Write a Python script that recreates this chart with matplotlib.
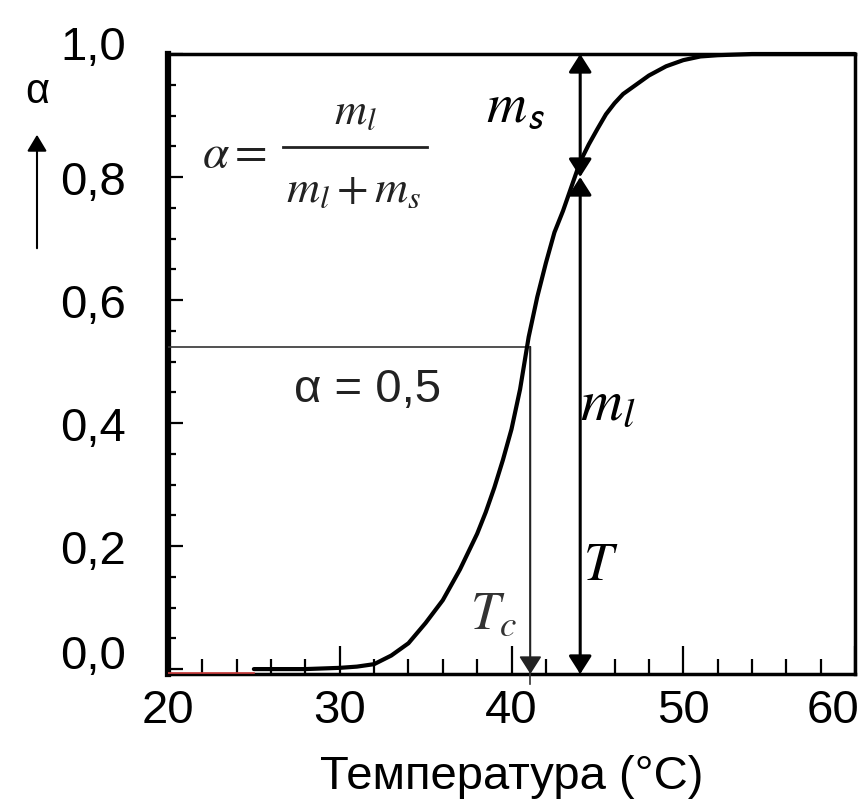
import numpy as np
import matplotlib
matplotlib.use('Agg')
import matplotlib.pyplot as plt
from matplotlib.ticker import MultipleLocator, FuncFormatter
from matplotlib.transforms import ScaledTranslation

# melting curve: liquid fraction vs temperature
temp = [25, 28, 30, 31, 32, 33, 34, 35, 36, 37, 38, 38.5, 39, 39.5, 40, 40.5,
        41, 41.5, 42, 42.5, 43, 43.5, 44, 44.5, 45, 45.5, 46, 46.5, 47, 48,
        49, 50, 51, 52, 54, 56, 60]
alpha = [0.0, 0.0, 0.002, 0.004, 0.008, 0.022, 0.042, 0.075, 0.112, 0.162,
         0.22, 0.255, 0.295, 0.34, 0.39, 0.455, 0.54, 0.605, 0.66, 0.71,
         0.745, 0.785, 0.825, 0.853, 0.878, 0.902, 0.92, 0.935, 0.945, 0.965,
         0.98, 0.99, 0.996, 0.998, 1.0, 1.0, 1.0]

red_x = [20, 25]          # reddish baseline at the very start
tc_x = 41.1               # T_c
alpha_half = 0.524        # level of the "alpha = 0,5" line
m_x = 44.0                # temperature where m_l / m_s are shown
alpha_split = 0.8

x_ticks = [20, 30, 40, 50, 60]
y_ticks = [0.0, 0.2, 0.4, 0.6, 0.8, 1.0]

plt.rcParams['font.family'] = ['Liberation Sans', 'DejaVu Sans']
plt.rcParams['mathtext.fontset'] = 'stix'

fig = plt.figure(figsize=(8.65, 8.04), dpi=100)
ax = fig.add_axes([168/865, 1 - 675/804, (855-168)/865, (675-55)/804])

ymin = -0.008
ax.set_xlim(20, 60)
ax.set_ylim(ymin, 1.0)

# curve
ax.plot(temp, alpha, color='black', lw=3, solid_capstyle='round', zorder=4,
        clip_on=False)
ax.plot(red_x, [ymin + 0.002] * 2, color='#d04040', lw=1.2, zorder=5)

# alpha = 0.5 line and T_c arrow
ax.plot([20, tc_x], [alpha_half, alpha_half], color='#333333', lw=1.2, zorder=3)
ax.plot([tc_x, tc_x], [alpha_half, -0.025], color='#333333', lw=1.2,
        zorder=3, clip_on=False)
ax.annotate('', xy=(tc_x, ymin), xytext=(tc_x, alpha_half),
            arrowprops=dict(arrowstyle='-|>,head_length=0.55,head_width=0.35',
                            color='#222222', lw=1.2, shrinkA=0, shrinkB=0,
                            mutation_scale=20))

# m_l and m_s arrows
arrow_kw = dict(arrowstyle='<|-|>,head_length=0.55,head_width=0.35',
                color='black', lw=2.2, shrinkA=0, shrinkB=0, mutation_scale=20)
ax.annotate('', xy=(m_x, ymin), xytext=(m_x, alpha_split), arrowprops=arrow_kw)
ax.annotate('', xy=(m_x, alpha_split), xytext=(m_x, 1.0), arrowprops=arrow_kw)

# texts
ax.text(31.6, 0.455, 'α = 0,5', fontsize=34, ha='center', va='center',
        color='#222222')
ax.text(40.2, 0.915, r'$m_\mathsf{s}$', fontsize=40, ha='center',
        va='center')
ax.text(44.0, 0.43, r'$m_l$', fontsize=42, ha='left', va='center')
ax.text(45.2, 0.17, r'$T$', fontsize=38, ha='center', va='center')
ax.text(37.6, 0.09, r'$T_c$', fontsize=38, ha='left', va='center',
        color='#333333')

# formula alpha = m_l / (m_l + m_s), built from pieces
ax.text(22.0, 0.838, r'$\alpha =$', fontsize=34, ha='left', va='center',
        color='#222222')
ax.plot([26.7, 35.1], [0.849, 0.849], color='#222222', lw=2)
ax.text(30.9, 0.906, r'$m_l$', fontsize=32, ha='center', va='center',
        color='#222222')
ax.text(30.8, 0.781, r'$m_l + m_s$', fontsize=33, ha='center', va='center',
        color='#222222')

# axis arrow with alpha on the left
fig.text(37/865, 1 - 92/804, 'α', fontsize=30, ha='center', va='center')
fig.add_artist(matplotlib.patches.FancyArrowPatch(
    (37/865, 1 - 252/804), (37/865, 1 - 133/804),
    transform=fig.transFigure, arrowstyle='-|>,head_length=0.5,head_width=0.3',
    mutation_scale=20, color='black', lw=1.5))

# ticks and spines
ax.set_xticks(x_ticks)
ax.xaxis.set_minor_locator(MultipleLocator(2))
ax.set_yticks(y_ticks)
ax.yaxis.set_minor_locator(MultipleLocator(0.05))
ax.yaxis.set_major_formatter(FuncFormatter(lambda v, p: f'{v:.1f}'.replace('.', ',')))

ax.tick_params(axis='both', which='both', direction='in', width=1.6,
               colors='black', labelsize=34)
ax.tick_params(axis='x', which='major', length=20, pad=10)
ax.tick_params(axis='x', which='minor', length=11)
ax.tick_params(axis='y', which='major', length=11, pad=30)
ax.tick_params(axis='y', which='minor', length=6)

# small shifts of a few tick labels, as in the original
def nudge(label, dx_px, dy_px):
    label.set_transform(label.get_transform() +
                        ScaledTranslation(dx_px / 100, dy_px / 100, fig.dpi_scale_trans))

ylabels = ax.get_yticklabels()
nudge(ylabels[0], 0, 18)
nudge(ylabels[-1], 0, 12)
nudge(ax.get_xticklabels()[-1], -22, 0)

ax.spines['left'].set_linewidth(4.5)
ax.spines['bottom'].set_linewidth(2.5)
ax.spines['top'].set_linewidth(2.5)
ax.spines['right'].set_linewidth(2.5)

ax.set_xlabel('Температура (°C)', fontsize=34, labelpad=16)

fig.savefig('out.png', dpi=100)
